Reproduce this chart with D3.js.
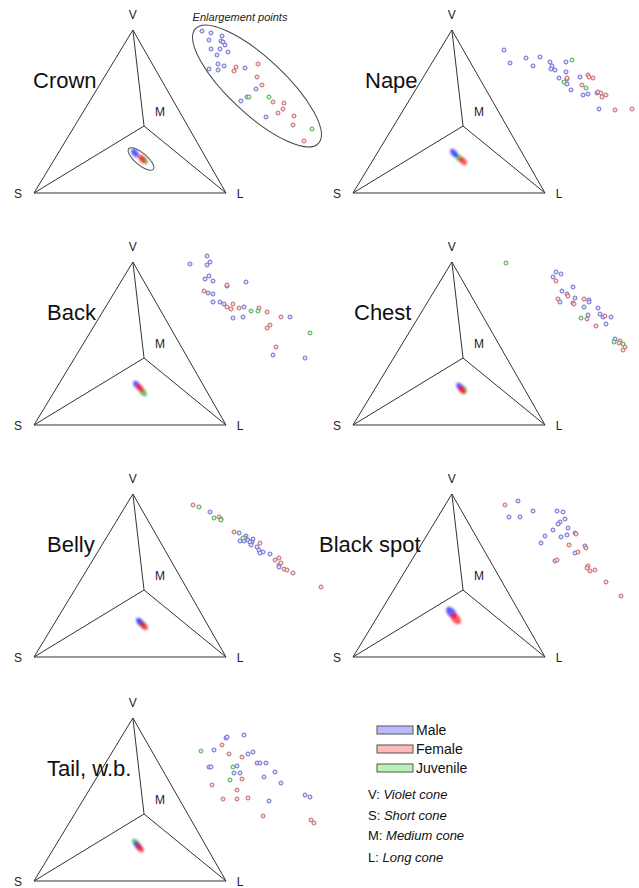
<!DOCTYPE html>
<html>
<head>
<meta charset="utf-8">
<script src="https://cdn.jsdelivr.net/npm/d3@7"></script>
<style>
  body { margin: 0; background: #fff; }
  svg { display: block; font-family: Arial, 'Liberation Sans', sans-serif; }
</style>
</head>
<body>
<div id="chart"></div>
<script>
// Data
const panelNames = ['Crown', 'Nape', 'Back', 'Chest', 'Belly', 'Black spot', 'Tail, w.b.'];
const groups = ['Male', 'Female', 'Juvenile'];
const coneKeys = ['V', 'S', 'M', 'L'];
const coneNames = ['Violet cone', 'Short cone', 'Medium cone', 'Long cone'];

// tetrahedron vertices, projected (x, y)
const coneX = [0.03, -1, 0.146, 1];
const coneY = [1, 0, 0.411, 0];

// group means in projected colour space, one per panel
const meanMale     = [[0.052, 0.245], [0.052, 0.245], [0.073, 0.245], [0.115, 0.233], [0.104, 0.215], [0.025, 0.272], [0.083, 0.215]];
const meanFemale   = [[0.125, 0.209], [0.146, 0.196], [0.104, 0.227], [0.135, 0.215], [0.146, 0.190], [0.070, 0.236], [0.104, 0.202]];
const meanJuvenile = [[0.146, 0.202], [0.104, 0.215], [0.135, 0.202], [0.146, 0.221], [0.125, 0.202], null, [0.0625, 0.233]];

// enlargement points (arbitrary enlarged units)
const crownMale = [[22,139],[31,137],[42,134],[29,130],[41,129],[43,128],[45,125],[31,121],[40,121],[48,118],[37,115],[38,106],[44,104],[29,101],[38,100],[65,102],[76,81],[61,69],[67,73],[86,53]];
const crownFemale = [[56,103],[54,99],[78,106],[77,93],[82,85],[93,68],[104,67],[103,61],[98,57],[114,54],[113,45],[124,29]];
const crownJuvenile = [[69,73],[89,73],[132,41]];

const napeMale = [[5,120],[11,107],[27,112],[34,104],[41,113],[51,108],[53,104],[52,101],[56,100],[60,92],[67,108],[67,98],[68,91],[68,86],[72,80],[81,93],[84,75],[89,76],[98,77],[100,61]];
const napeFemale = [[68,92],[89,95],[90,93],[94,92],[83,85],[99,78],[102,77],[103,73],[107,75],[116,60],[133,61]];
const napeJuvenile = [[73,110],[65,88],[87,82]];

const backMale = [[27,146],[10,138],[30,140],[27,137],[25,123],[29,126],[33,121],[28,109],[33,108],[33,100],[40,100],[44,98],[47,116],[66,120],[64,95],[53,84],[63,85],[110,85],[93,47],[125,44]];
const backFemale = [[47,117],[24,111],[53,98],[47,95],[51,93],[59,94],[79,94],[87,90],[101,85],[90,77],[87,74],[96,55]];
const backJuvenile = [[71,91],[78,91],[130,69]];

const chestMale = [[57,130],[62,128],[54,125],[63,111],[68,108],[74,115],[76,104],[74,99],[90,102],[90,100],[85,95],[99,94],[101,88],[104,85],[112,85],[107,78],[89,87],[116,63],[61,100]];
const chestFemale = [[57,121],[59,103],[69,106],[75,98],[85,103],[106,86],[88,83],[97,76],[121,61],[120,59],[126,55],[124,52]];
const chestJuvenile = [[7,139],[82,84],[115,60],[124,58]];

const bellyMale = [[30,122],[59,101],[66,98],[65,96],[60,93],[64,93],[68,94],[73,95],[72,92],[70,92],[71,89],[77,87],[79,84],[83,82],[80,81],[90,80],[99,69],[99,67]];
const bellyFemale = [[13,129],[39,117],[41,115],[54,102],[80,91],[95,74],[99,76],[101,71],[104,65],[107,64],[113,61],[141,47]];
const bellyJuvenile = [[19,127],[34,116],[41,114],[63,96]];

const spotMale = [[19,133],[10,117],[21,117],[34,123],[58,123],[64,122],[66,115],[61,112],[59,110],[69,106],[54,104],[46,98],[42,91],[68,99],[62,97],[76,101],[86,88],[76,81],[56,73]];
const spotFemale = [[6,129],[77,100],[70,89],[79,82],[87,86],[58,74],[89,68],[88,66],[91,63],[96,64],[107,52],[122,38]];
const spotJuvenile = [];

const tailMale = [[46,120],[47,121],[64,123],[34,108],[68,104],[73,106],[29,91],[31,91],[57,92],[54,85],[60,85],[77,95],[80,95],[86,95],[95,86],[84,81],[101,75],[89,57],[125,63],[130,61]];
const tailFemale = [[42,113],[49,104],[62,101],[62,79],[32,73],[57,68],[43,59],[57,59],[68,60],[83,42],[131,38],[134,35]];
const tailJuvenile = [[21,107],[53,91],[50,78]];

const malePts = [crownMale, napeMale, backMale, chestMale, bellyMale, spotMale, tailMale];
const femalePts = [crownFemale, napeFemale, backFemale, chestFemale, bellyFemale, spotFemale, tailFemale];
const juvenilePts = [crownJuvenile, napeJuvenile, backJuvenile, chestJuvenile, bellyJuvenile, spotJuvenile, tailJuvenile];

// Layout
const width = 639;
const height = 888;
const colX = [0, 319];
const rowY = [0, 232, 464, 688];
const titleX = [33, 46, 47, 35, 47, 0, 47];
const blobSize = [1, 1, 1, 1, 1, 1.35, 1];

const pointStroke = ['#6a6ad4', '#c46868', '#4aa84a'];
const pointFill = ['#e2e2f8', '#f6dede', '#def2de'];
const blobColor = ['#2020ff', '#ff2020', '#33a533'];
const legendFill = ['#babaff', '#ffbaba', '#baf2ba'];
const lineColor = '#333';

const svg = d3.select('#chart')
    .append('svg')
    .attr('width', width)
    .attr('height', height);

svg.append('defs')
    .append('filter')
    .attr('id', 'soft')
    .attr('x', '-50%').attr('y', '-50%').attr('width', '200%').attr('height', '200%')
    .append('feGaussianBlur')
    .attr('stdDeviation', 0.8);

panelNames.forEach((name, i) => drawPanel(name, i));
drawLegend();

function drawPanel(name, i) {
    const ox = colX[i % 2];
    const oy = rowY[Math.floor(i / 2)];
    const g = svg.append('g').attr('class', 'panel');

    const x = d3.scaleLinear().domain([-1, 1]).range([ox + 34, ox + 226]);
    const y = d3.scaleLinear().domain([0, 1]).range([oy + 193, oy + 30]);

    const ex = d3.scaleLinear().domain([0, 140]).range([ox + 180, ox + 320]);
    const ey = d3.scaleLinear().domain([0, 150]).range([oy + 170, oy + 20]);

    const vert = k => {
        const j = coneKeys.indexOf(k);
        return [x(coneX[j]), y(coneY[j])];
    };

    // tetrahedron edges
    const edges = [['V', 'S'], ['V', 'L'], ['S', 'L'], ['M', 'V'], ['M', 'S'], ['M', 'L']];
    g.append('g')
        .selectAll('line')
        .data(edges)
        .join('line')
        .attr('x1', d => vert(d[0])[0])
        .attr('y1', d => vert(d[0])[1])
        .attr('x2', d => vert(d[1])[0])
        .attr('y2', d => vert(d[1])[1])
        .attr('stroke', lineColor)
        .attr('stroke-width', 1);

    // vertex labels
    const labelOffset = { V: [0, -11], S: [-16, 5], L: [14, 5], M: [16, -10] };
    g.append('g')
        .selectAll('text')
        .data(coneKeys)
        .join('text')
        .attr('x', d => vert(d)[0] + labelOffset[d][0])
        .attr('y', d => vert(d)[1] + labelOffset[d][1])
        .attr('text-anchor', 'middle')
        .style('font-size', '12px')
        .style('fill', '#222')
        .text(d => d);

    // title
    g.append('text')
        .attr('x', ox + titleX[i])
        .attr('y', oy + 88)
        .style('font-size', '22px')
        .style('fill', '#111')
        .text(name);

    // mean clusters
    const means = [meanMale[i], meanFemale[i], meanJuvenile[i]];
    const blobs = g.append('g').attr('filter', 'url(#soft)');
    [2, 0, 1].forEach(k => {
        const m = means[k];
        if (!m) return;
        blobs.append('ellipse')
            .attr('transform', `translate(${x(m[0])},${y(m[1])}) rotate(50)`)
            .attr('rx', 5 * blobSize[i])
            .attr('ry', 3 * blobSize[i])
            .attr('fill', blobColor[k])
            .attr('fill-opacity', 0.75);
    });

    // enlargement points
    const sets = [malePts[i], femalePts[i], juvenilePts[i]];
    sets.forEach((pts, k) => {
        g.append('g')
            .selectAll('circle')
            .data(pts)
            .join('circle')
            .attr('cx', d => ex(d[0]))
            .attr('cy', d => ey(d[1]))
            .attr('r', 2)
            .attr('fill', pointFill[k])
            .attr('stroke', pointStroke[k])
            .attr('stroke-width', 1);
    });

    if (i === 0) {
        // outline of the enlarged region
        const c = meanFemale[0];
        g.append('ellipse')
            .attr('transform', `translate(${x(c[0]) - 1},${y(c[1])}) rotate(40)`)
            .attr('rx', 16)
            .attr('ry', 6)
            .attr('fill', 'none')
            .attr('stroke', '#555');

        g.append('ellipse')
            .attr('transform', `translate(${ex(77)},${ey(84)}) rotate(43)`)
            .attr('rx', 84)
            .attr('ry', 28)
            .attr('fill', 'none')
            .attr('stroke', '#444');

        g.append('text')
            .attr('x', ex(60))
            .attr('y', ey(149))
            .attr('text-anchor', 'middle')
            .style('font-size', '11px')
            .style('font-style', 'italic')
            .style('fill', '#222')
            .text('Enlargement points');
    }
}

function drawLegend() {
    const lg = svg.append('g').attr('class', 'legend');

    const rows = lg.selectAll('g.row')
        .data(groups)
        .join('g')
        .attr('class', 'row')
        .attr('transform', (d, i) => `translate(377, ${726 + i * 19})`);

    rows.append('rect')
        .attr('width', 36)
        .attr('height', 8)
        .attr('fill', (d, i) => legendFill[i])
        .attr('stroke', '#555');

    rows.append('text')
        .attr('x', 39)
        .attr('y', 9)
        .style('font-size', '14px')
        .style('fill', '#111')
        .text(d => d);

    const cones = lg.selectAll('text.cone')
        .data(coneKeys)
        .join('text')
        .attr('class', 'cone')
        .attr('x', 368)
        .attr('y', (d, i) => [799, 820, 840, 862][i])
        .style('font-size', '13px')
        .style('fill', '#111');

    cones.append('tspan').text(d => d + ': ');
    cones.append('tspan')
        .style('font-style', 'italic')
        .text((d, i) => coneNames[i]);
}
</script>
</body>
</html>
